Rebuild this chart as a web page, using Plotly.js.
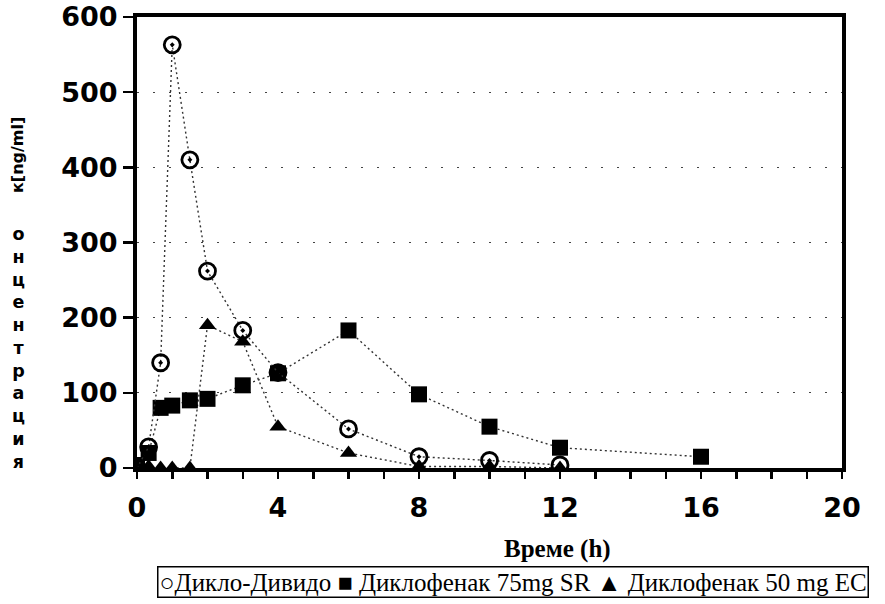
<!DOCTYPE html>
<html>
<head>
<meta charset="utf-8">
<script src="https://cdn.plot.ly/plotly-3.0.1.min.js"></script>
<style>html,body{margin:0;padding:0;background:#fff;}#chart{width:885px;height:604px;}</style>
</head>
<body>
<div id="chart"></div>
<script>
// Time points (h)
const timeDivido = [0, 0.33, 0.67, 1, 1.5, 2, 3, 4, 6, 8, 10, 12];
const concDivido = [0, 28, 140, 563, 410, 262, 183, 127, 52, 15, 10, 4];

const timeSR = [0, 0.33, 0.67, 1, 1.5, 2, 3, 4, 6, 8, 10, 12, 16];
const concSR = [4, 20, 80, 83, 90, 92, 110, 126, 183, 98, 55, 27, 15];

const timeEC = [0, 0.33, 0.67, 1, 1.5, 2, 3, 4, 6, 8, 10, 12];
const concEC = [0, 2, 0, 0, 0, 190, 168, 55, 20, 2, 2, 0];

const seriesNames = ["Дикло-Дивидо", "Диклофенак 75mg SR", "Диклофенак 50 mg EC"];

const xTickVals = [0,1,2,3,4,5,6,7,8,9,10,11,12,13,14,15,16,17,18,19,20];
const xTickText = ["0","","","","4","","","","8","","","","12","","","","16","","","","20"];
const yTickVals = [0,100,200,300,400,500,600];

const xTitle = "Време (h)";
const yTitleRot = "к[ng/ml]";
const yTitleStack = "онцентрация";

const lineStyle = {color:'#333', width:1.4, dash:'2px,3px'};

const traces = [
  {x: timeEC, y: concEC, name: seriesNames[2], mode:'lines+markers', line: lineStyle,
   marker:{symbol:'triangle-up', size:15, color:'#000'}, showlegend:false},
  {x: timeSR, y: concSR, name: seriesNames[1], mode:'lines+markers', line: lineStyle,
   marker:{symbol:'square', size:16, color:'#000'}, showlegend:false},
  {x: timeDivido, y: concDivido, name: seriesNames[0], mode:'lines+markers', line: lineStyle,
   marker:{symbol:'circle-open-dot', size:16, color:'#000', line:{width:2.8, color:'#000'}}, showlegend:false}
];

const tickFont = {family:'DejaVu Sans', size:27, color:'#000', weight:800};

const stackText = yTitleStack.split('').join('<br>');

const layout = {
  width:885, height:604,
  margin:{l:137, r:43, t:17, b:136},
  paper_bgcolor:'#fff', plot_bgcolor:'#fff',
  showlegend:false,
  xaxis:{range:[0,20], tickvals:xTickVals, ticktext:xTickText, ticks:'outside', ticklen:7, tickwidth:2.5,
    tickcolor:'#000', showline:true, linewidth:4, linecolor:'#000', mirror:true, showgrid:false,
    zeroline:false, tickfont:tickFont, ticklabelstandoff:6},
  yaxis:{range:[0,600], tickvals:yTickVals, ticks:'outside', ticklen:10, tickwidth:2.5, tickcolor:'#000',
    showline:true, linewidth:4, linecolor:'#000', mirror:true, showgrid:true, gridcolor:'#444',
    griddash:'2px,14px', gridwidth:1.2, zeroline:false, tickfont:tickFont, ticklabelstandoff:0},
  annotations:[
    {text:'<b>'+xTitle+'</b>', xref:'paper', yref:'paper', x:(557-137)/705, y:(468-549)/451,
     xanchor:'center', yanchor:'middle', showarrow:false,
     font:{family:'Liberation Serif', size:25, color:'#000'}},
    {text:'<b>'+yTitleRot+'</b>', xref:'paper', yref:'paper', x:(17-137)/705, y:(468-155)/451,
     xanchor:'center', yanchor:'middle', textangle:-90, showarrow:false,
     font:{family:'DejaVu Sans', size:16, color:'#000'}},
    {text:'<b>'+stackText+'</b>', xref:'paper', yref:'paper', x:(18-137)/705, y:(468-348)/451,
     xanchor:'center', yanchor:'middle', showarrow:false,
     font:{family:'DejaVu Sans', size:17.5, color:'#000'}},
    {text:'○'+seriesNames[0]+' ■ '+seriesNames[1]+' ▲ '+seriesNames[2],
     xref:'paper', yref:'paper', x:(157-137)/705, y:(468-582)/451,
     xanchor:'left', yanchor:'middle', showarrow:false, bordercolor:'#000', borderwidth:1.5, borderpad:1,
     font:{family:'Liberation Serif', size:25, color:'#000'}}
  ]
};

Plotly.newPlot('chart', traces, layout, {displayModeBar:false, staticPlot:true});
</script>
</body>
</html>
